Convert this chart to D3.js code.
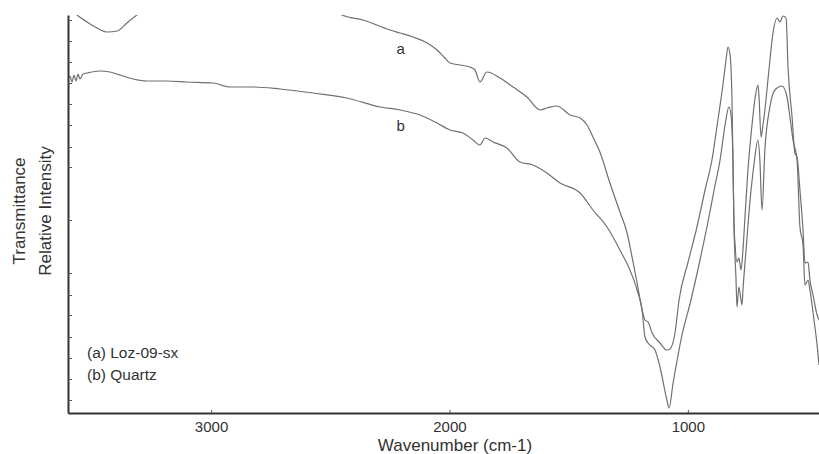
<!DOCTYPE html>
<html>
<head>
<meta charset="utf-8">
<script src="https://cdn.jsdelivr.net/npm/d3@7"></script>
<style>
  body { margin: 0; background: #fff; }
  text { font-family: "Liberation Sans", Arial, sans-serif; }
</style>
</head>
<body>
<div id="chart"></div>
<script>
// wavenumber (cm-1) and relative transmittance
var waveA = [3600, 3562, 3520, 3478, 3436, 3394, 3353, 3311, 3214, 3046, 2837, 2627, 2501, 2451, 2363, 2249, 2207, 2153, 2094, 2052,
  2019, 1998, 1956, 1914, 1893, 1872, 1843, 1788, 1733, 1675, 1620, 1591, 1549, 1494, 1452, 1423, 1398, 1369, 1327, 1285,
  1255, 1230, 1213, 1192, 1180, 1167, 1150, 1117, 1088, 1075, 1054, 1037, 999, 962, 928, 899, 874, 853, 840, 832,
  823, 815, 811, 807, 802, 794, 786, 777, 769, 760, 748, 731, 718, 706, 702, 693, 685, 677, 660, 643,
  626, 614, 601, 588, 580, 563, 551, 542, 530, 517, 509, 496, 488, 475, 458, 450];
var transA = [407, 398, 391, 385, 381, 382, 390, 398, 413, 425, 431, 427, 408, 398, 393, 383, 380, 376, 370, 363,
  355, 350, 348, 346, 343, 331, 341, 335, 326, 316, 303, 305, 307, 298, 295, 288, 276, 261, 230, 201,
  180, 151, 130, 103, 93, 91, 80, 70, 63, 64, 80, 113, 151, 186, 223, 253, 293, 328, 353, 366,
  358, 313, 253, 193, 168, 151, 155, 143, 163, 198, 243, 288, 315, 328, 318, 276, 288, 303, 343, 380,
  395, 391, 397, 395, 346, 296, 260, 256, 223, 183, 150, 151, 133, 118, 98, 93];

var waveB = [3600, 3592, 3583, 3575, 3566, 3558, 3550, 3537, 3520, 3466, 3424, 3382, 3327, 3269, 3185, 3101, 2992, 2920, 2824, 2711,
  2572, 2430, 2291, 2207, 2124, 2052, 1998, 1943, 1901, 1872, 1851, 1817, 1759, 1704, 1650, 1591, 1536, 1452, 1398, 1339,
  1285, 1243, 1213, 1192, 1180, 1167, 1138, 1117, 1088, 1079, 1062, 1041, 1029, 987, 949, 920, 890, 865, 844, 828,
  819, 811, 807, 798, 794, 786, 773, 769, 756, 739, 723, 706, 698, 689, 677, 656, 635, 605, 584, 572,
  559, 542, 530, 517, 509, 496, 488, 471, 458, 450];
var transB = [333, 337, 331, 338, 332, 339, 334, 339, 340, 342, 341, 338, 334, 332, 332, 331, 330, 326, 326, 324,
  320, 315, 306, 303, 298, 290, 283, 280, 273, 268, 275, 271, 265, 251, 248, 240, 230, 220, 203, 186,
  163, 143, 123, 103, 76, 70, 63, 46, 13, 5, 30, 58, 73, 113, 153, 186, 223, 253, 288, 306,
  298, 253, 193, 133, 106, 126, 108, 123, 163, 213, 248, 273, 253, 203, 263, 306, 323, 327, 316, 296,
  273, 253, 186, 168, 128, 133, 123, 93, 68, 48];

var xTicks = [3000, 2000, 1000];
var yTicks = [393, 372, 351, 330, 309, 288, 266, 246, 193, 140, 118, 98, 76, 55, 34, 13];

var seriesLabels = [
  { name: "a", wave: 2205, value: 359 },
  { name: "b", wave: 2205, value: 282 }
];
var legendLines = ["(a) Loz-09-sx", "(b) Quartz"];

var svgWidth = 819;
var svgHeight = 454;
var margin = { top: 15, right: 0, bottom: 41, left: 68 };
var width = svgWidth - margin.left - margin.right;
var height = svgHeight - margin.top - margin.bottom;

var svg = d3.select("#chart")
  .append("svg")
  .attr("width", svgWidth)
  .attr("height", svgHeight);

var chartGroup = svg.append("g")
  .attr("transform", `translate(${margin.left}, ${margin.top})`);

var x = d3.scaleLinear().domain([3600, 450]).range([0, width]);
var y = d3.scaleLinear().domain([0, 398]).range([height, 0]);

chartGroup.append("clipPath")
  .attr("id", "plotClip")
  .append("rect")
  .attr("width", width)
  .attr("height", height);

var line = d3.line()
  .x(d => x(d[0]))
  .y(d => y(d[1]))
  .curve(d3.curveMonotoneX);

var dataA = d3.zip(waveA, transA);
var dataB = d3.zip(waveB, transB);

[dataA, dataB].forEach(function (data) {
  chartGroup.append("path")
    .datum(data)
    .attr("clip-path", "url(#plotClip)")
    .attr("fill", "none")
    .attr("stroke", "#707070")
    .attr("stroke-width", 1.2)
    .attr("stroke-linejoin", "round")
    .attr("d", line);
});

// axes
var xAxis = chartGroup.append("g")
  .attr("transform", `translate(0, ${height})`)
  .call(d3.axisBottom(x).tickValues(xTicks).tickSizeInner(-3).tickSizeOuter(0).tickPadding(8).tickFormat(d3.format("d")));

var yAxis = chartGroup.append("g")
  .call(d3.axisLeft(y).tickValues(yTicks).tickSizeInner(-4).tickSizeOuter(0).tickFormat(""));

[xAxis, yAxis].forEach(function (g) {
  g.select(".domain").attr("stroke", "#333").attr("stroke-width", 2);
  g.selectAll(".tick line").attr("stroke", "#555").attr("stroke-width", 1);
  g.selectAll(".tick text").attr("fill", "#333").attr("font-size", "15px")
    .attr("font-family", "Liberation Sans, Arial, sans-serif");
});

// axis labels
svg.append("text")
  .attr("x", 455)
  .attr("y", 451)
  .attr("text-anchor", "middle")
  .attr("font-size", "17px")
  .attr("fill", "#333")
  .text("Wavenumber (cm-1)");

svg.append("text")
  .attr("transform", "translate(25, 211) rotate(-90)")
  .attr("text-anchor", "middle")
  .attr("font-size", "17px")
  .attr("fill", "#333")
  .text("Transmittance");

svg.append("text")
  .attr("transform", "translate(51, 211) rotate(-90)")
  .attr("text-anchor", "middle")
  .attr("font-size", "17px")
  .attr("fill", "#333")
  .text("Relative Intensity");

// curve labels
chartGroup.selectAll(".curve-label")
  .data(seriesLabels)
  .enter().append("text")
  .attr("class", "curve-label")
  .attr("x", d => x(d.wave))
  .attr("y", d => y(d.value))
  .attr("text-anchor", "middle")
  .attr("font-size", "15px")
  .attr("fill", "#333")
  .text(d => d.name);

// legend
svg.selectAll(".legend")
  .data(legendLines)
  .enter().append("text")
  .attr("class", "legend")
  .attr("x", 87)
  .attr("y", (d, i) => 358 + i * 22)
  .attr("font-size", "15.5px")
  .attr("fill", "#333")
  .text(d => d);
</script>
</body>
</html>
